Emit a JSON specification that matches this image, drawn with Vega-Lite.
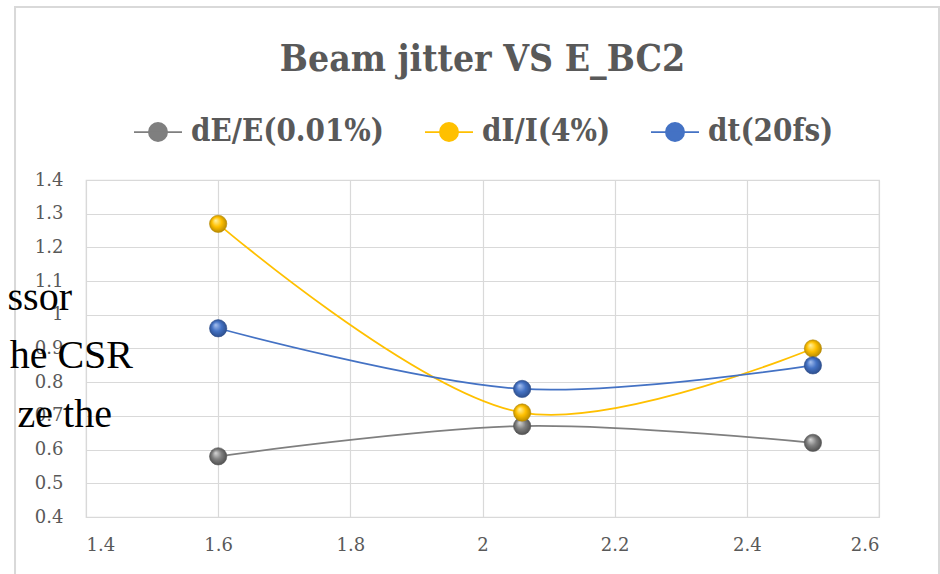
{
  "$schema": "https://vega.github.io/schema/vega-lite/v6.json",
  "width": 793,
  "height": 337,
  "autosize": {"type": "none"},
  "padding": {"left": 86, "top": 180, "right": 61, "bottom": 57},
  "background": "white",
  "title": {
    "text": "Beam jitter VS E_BC2",
    "font": "DejaVu Serif Condensed, DejaVu Serif",
    "fontSize": 37,
    "fontWeight": "bold",
    "color": "#595959",
    "anchor": "middle",
    "baseline": "alphabetic",
    "offset": -102
  },
  "datasets": {
    "jitter": [
      {"E_BC2": 1.6, "series": "dE/E(0.01%)", "value": 0.58},
      {"E_BC2": 2.06, "series": "dE/E(0.01%)", "value": 0.67},
      {"E_BC2": 2.5, "series": "dE/E(0.01%)", "value": 0.62},
      {"E_BC2": 1.6, "series": "dI/I(4%)", "value": 1.27},
      {"E_BC2": 2.06, "series": "dI/I(4%)", "value": 0.71},
      {"E_BC2": 2.5, "series": "dI/I(4%)", "value": 0.9},
      {"E_BC2": 1.6, "series": "dt(20fs)", "value": 0.96},
      {"E_BC2": 2.06, "series": "dt(20fs)", "value": 0.78},
      {"E_BC2": 2.5, "series": "dt(20fs)", "value": 0.85}
    ],
    "overlay": [
      {"E_BC2": 1.3788, "value": 1.0142, "text": "ssor"},
      {"E_BC2": 1.4711, "value": 0.8421, "text": "he CSR"},
      {"E_BC2": 1.4393, "value": 0.667, "text": "ze the"}
    ],
    "frame": [
      {"E_BC2": 1.2926, "E_BC2_end": 2.6908, "value": 1.9134, "value_end": 0.2}
    ]
  },
  "encoding": {
    "x": {
      "field": "E_BC2",
      "type": "quantitative",
      "scale": {"domain": [1.4, 2.6], "nice": false, "zero": false},
      "axis": {
        "title": null,
        "values": [1.4, 1.6, 1.8, 2.0, 2.2, 2.4, 2.6],
        "format": "~g",
        "labelFont": "DejaVu Serif",
        "labelFontSize": 18,
        "labelColor": "#595959",
        "labelPadding": 19,
        "labelOverlap": false,
        "ticks": false,
        "domain": false,
        "grid": true,
        "gridColor": "#d9d9d9",
        "gridWidth": 1.2
      }
    },
    "y": {
      "field": "value",
      "type": "quantitative",
      "scale": {"domain": [0.4, 1.4], "nice": false, "zero": false},
      "axis": {
        "title": null,
        "values": [0.4, 0.5, 0.6, 0.7, 0.8, 0.9, 1.0, 1.1, 1.2, 1.3, 1.4],
        "format": "~g",
        "labelFont": "DejaVu Serif",
        "labelFontSize": 18,
        "labelColor": "#595959",
        "labelPadding": 23,
        "labelOverlap": false,
        "ticks": false,
        "domain": false,
        "grid": true,
        "gridColor": "#d9d9d9",
        "gridWidth": 1.2
      }
    }
  },
  "layer": [
    {
      "data": {"name": "frame"},
      "mark": {"type": "rect", "filled": false, "fillOpacity": 0, "stroke": "#d9d9d9", "strokeWidth": 2, "clip": false},
      "encoding": {
        "x2": {"field": "E_BC2_end"},
        "y2": {"field": "value_end"}
      }
    },
    {
      "data": {"name": "jitter"},
      "mark": {"type": "line", "interpolate": "catmull-rom", "strokeWidth": 1.75},
      "encoding": {
        "color": {
          "field": "series",
          "type": "nominal",
          "scale": {
            "domain": ["dE/E(0.01%)", "dI/I(4%)", "dt(20fs)"],
            "range": ["#7f7f7f", "#ffc000", "#4472c4"]
          },
          "legend": {
            "title": null,
            "orient": "none",
            "direction": "horizontal",
            "legendX": 47,
            "legendY": -73,
            "symbolType": "M-1,0L1,0M-0.38,0A0.38,0.38,0,1,1,0.38,0A0.38,0.38,0,1,1,-0.38,0Z",
            "symbolSize": 2304,
            "symbolStrokeWidth": 1.75,
            "labelFont": "DejaVu Serif Condensed, DejaVu Serif",
            "labelFontSize": 31,
            "labelFontWeight": "bold",
            "labelColor": "#595959",
            "labelOffset": 8,
            "columnPadding": 36,
            "labelLimit": 400,
            "encode": {
              "symbols": {
                "update": {
                  "fill": {"scale": "color", "field": "value"},
                  "fillOpacity": {"value": 1}
                }
              }
            }
          }
        }
      }
    },
    {
      "data": {"name": "jitter"},
      "transform": [{"filter": "datum.series === 'dE/E(0.01%)'"}],
      "mark": {
        "type": "point",
        "filled": true,
        "size": 300,
        "opacity": 1,
        "stroke": "#555555",
        "strokeWidth": 0.6,
        "fill": {
          "gradient": "radial",
          "x1": 0.35, "y1": 0.3, "r1": 0,
          "x2": 0.5, "y2": 0.5, "r2": 0.55,
          "stops": [
            {"offset": 0, "color": "#d8d8d8"},
            {"offset": 0.5, "color": "#7f7f7f"},
            {"offset": 1, "color": "#4a4a4a"}
          ]
        }
      }
    },
    {
      "data": {"name": "jitter"},
      "transform": [{"filter": "datum.series === 'dI/I(4%)'"}],
      "mark": {
        "type": "point",
        "filled": true,
        "size": 300,
        "opacity": 1,
        "stroke": "#b38600",
        "strokeWidth": 0.6,
        "fill": {
          "gradient": "radial",
          "x1": 0.35, "y1": 0.3, "r1": 0,
          "x2": 0.5, "y2": 0.5, "r2": 0.55,
          "stops": [
            {"offset": 0, "color": "#fff3a8"},
            {"offset": 0.5, "color": "#ffc000"},
            {"offset": 1, "color": "#b08400"}
          ]
        }
      }
    },
    {
      "data": {"name": "jitter"},
      "transform": [{"filter": "datum.series === 'dt(20fs)'"}],
      "mark": {
        "type": "point",
        "filled": true,
        "size": 300,
        "opacity": 1,
        "stroke": "#2b4c8a",
        "strokeWidth": 0.6,
        "fill": {
          "gradient": "radial",
          "x1": 0.35, "y1": 0.3, "r1": 0,
          "x2": 0.5, "y2": 0.5, "r2": 0.55,
          "stops": [
            {"offset": 0, "color": "#a9c2f0"},
            {"offset": 0.5, "color": "#4472c4"},
            {"offset": 1, "color": "#2a4a86"}
          ]
        }
      }
    },
    {
      "data": {"name": "overlay"},
      "mark": {
        "type": "text",
        "align": "right",
        "baseline": "alphabetic",
        "font": "Liberation Serif",
        "fontSize": 40,
        "color": "#000000"
      },
      "encoding": {
        "text": {"field": "text"}
      }
    }
  ],
  "config": {
    "view": {"stroke": "#d9d9d9", "strokeWidth": 1.2}
  }
}
